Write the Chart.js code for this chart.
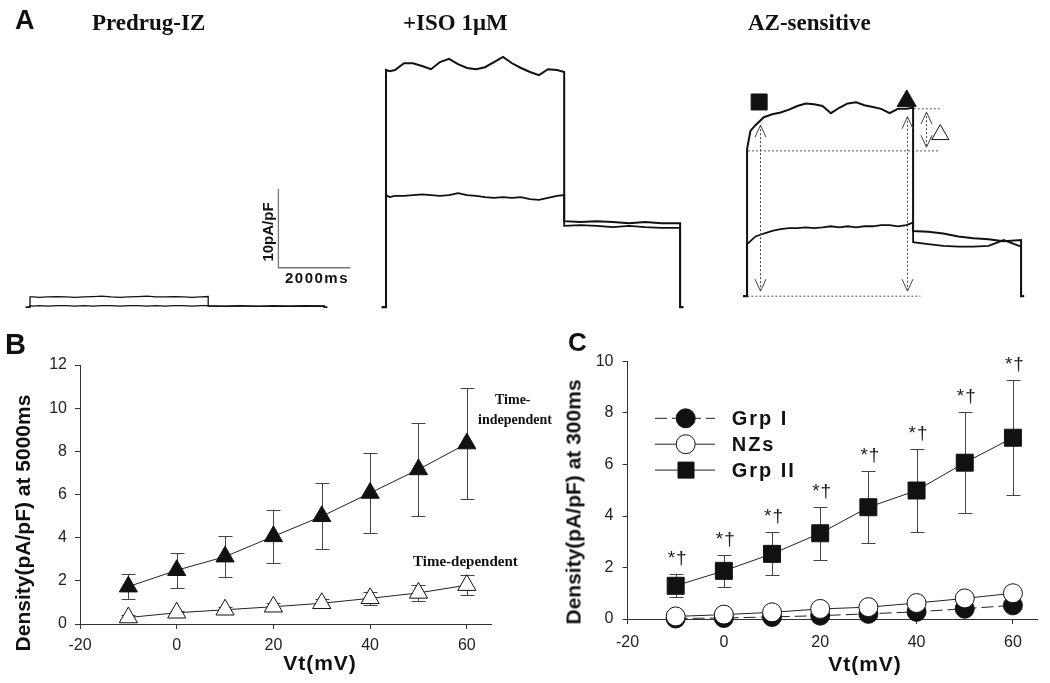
<!DOCTYPE html>
<html>
<head>
<meta charset="utf-8">
<script src="https://cdn.jsdelivr.net/npm/chart.js@4.4.1/dist/chart.umd.min.js"></script>
<style>
html, body { margin: 0; padding: 0; background: #fff; }
#page { position: relative; width: 1050px; height: 683px; overflow: hidden; }
#page canvas { position: absolute; }
.t { position: absolute; white-space: nowrap; line-height: 1; color: #111; }
.sans { font-family: "Liberation Sans", Arial, sans-serif; font-weight: bold; }
.serif { font-family: "Liberation Serif", "Times New Roman", serif; font-weight: bold; }
</style>
</head>
<body>
<div id="page">
  <canvas id="preChart" width="360" height="300" style="left:12px;top:23px"></canvas>
  <canvas id="isoChart" width="360" height="300" style="left:368px;top:23px"></canvas>
  <canvas id="azChart" width="360" height="300" style="left:718px;top:23px"></canvas>
  <canvas id="chartB" width="530" height="353" style="left:0px;top:330px"></canvas>
  <canvas id="chartC" width="520" height="353" style="left:530px;top:330px"></canvas>
</div>
<script>
// ---- panel A: current traces (time in ms, current in pA/pF) ----
var stepT = [0, 100, 250, 500, 750, 1000, 1250, 1500, 1750, 2000, 2250, 2500, 2750, 3000, 3250, 3500, 3750, 4000, 4250, 4500, 4750, 4950];
var tailT = [4950, 5400, 5850, 6300, 6750, 7200, 7650, 8170];

var preStepHi = [1.3, 1.3, 1.25, 1.3, 1.35, 1.3, 1.25, 1.3, 1.35, 1.4, 1.3, 1.25, 1.3, 1.35, 1.4, 1.3, 1.3, 1.35, 1.3, 1.25, 1.3, 1.35];
var preStepLo = [0.2, 0.15, 0.2, 0.15, 0.2, 0.2, 0.15, 0.2, 0.15, 0.2, 0.2, 0.15, 0.2, 0.2, 0.15, 0.2, 0.15, 0.2, 0.2, 0.15, 0.2, 0.2];
var preTailHi = [0.2, 0.15, 0.2, 0.1, 0.2, 0.15, 0.2, 0.15];
var preTailLo = [0.15, 0.1, 0.15, 0.15, 0.1, 0.15, 0.1, 0.15];

var isoStepHi = [30.05, 29.9, 30.05, 30.9, 30.9, 30.55, 30.15, 31.05, 31.45, 30.8, 30.3, 30.15, 30.4, 31.05, 31.7, 30.9, 30.3, 29.8, 29.4, 30.15, 30.05, 29.8];
var isoStepLo = [14.2, 13.95, 14.1, 14.1, 14.2, 14.3, 14.2, 14.1, 14.2, 14.45, 14.2, 14.1, 13.95, 13.85, 13.95, 13.85, 13.95, 13.7, 13.6, 13.85, 14.1, 14.2];
var isoTailHi = [10.9, 10.8, 10.9, 10.8, 10.65, 10.8, 10.65, 10.65];
var isoTailLo = [10.3, 10.4, 10.3, 10.15, 10.3, 10.15, 10.05, 10.05];

var azStepHi = [20.3, 22.8, 23.6, 24.7, 25.1, 25.35, 25.75, 26.25, 26.6, 26.5, 26.25, 25.25, 26.0, 26.6, 26.75, 26.35, 26.1, 25.85, 25.25, 25.85, 25.85, 26.0];
var azStepLo = [7.2, 7.6, 8.25, 8.65, 9.0, 9.25, 9.4, 9.4, 9.5, 9.4, 9.5, 9.65, 9.5, 9.65, 9.5, 9.65, 9.65, 9.8, 9.8, 9.65, 9.8, 10.15];
var azTailHi = [9.0, 8.9, 8.65, 8.25, 8.0, 7.85, 7.6, 7.75];
var azTailLo = [7.45, 7.2, 6.95, 6.85, 6.85, 6.95, 7.75, 6.85];

// scale bar: 10 pA/pF by 2000 ms
var scaleBarT = [6900, 6900, 8900];
var scaleBarV = [15, 5, 5];

// AZ-sensitive measurement guides, arrows and symbols
var guideT = [[-110, 5170], [30, 5750], [4970, 5750]];
var guideV = [[0, 0], [20.05, 20.05], [25.86, 25.86]];
var arrowT = [400, 4780, 5340];
var arrowLo = [0.7, 0.7, 20.55];
var arrowHi = [23.6, 24.76, 25.4];
var markT = [360, 4760, 5760];
var markV = [26.8, 26.95, 22.3];

var traceMinT = -500, traceMaxT = 9500;
var traceMinV = -2, traceMaxV = 36;

// ---- panels B and C ----
var vt = [-10, 0, 10, 20, 30, 40, 50, 60];
var xTicks = [-20, 0, 20, 40, 60];

var indepMean = [1.73, 2.49, 3.12, 4.06, 4.99, 6.07, 7.16, 8.36];
var indepErr = [0.57, 0.82, 0.95, 1.24, 1.52, 1.87, 2.16, 2.56];
var depMean = [0.3, 0.52, 0.66, 0.8, 0.96, 1.19, 1.44, 1.8];
var depErr = [0.1, 0.1, 0.12, 0.15, 0.22, 0.29, 0.39, 0.45];
var yTicksB = [0, 2, 4, 6, 8, 10, 12];

var grp1Mean = [0.02, 0.04, 0.08, 0.13, 0.2, 0.28, 0.4, 0.53];
var nzMean = [0.1, 0.17, 0.26, 0.39, 0.46, 0.62, 0.8, 1.0];
var grp2Mean = [1.29, 1.87, 2.53, 3.33, 4.34, 4.99, 6.07, 7.04];
var grp2Err = [0.45, 0.61, 0.83, 1.03, 1.4, 1.62, 1.97, 2.23];
var yTicksC = [0, 2, 4, 6, 8, 10];
var legendLabels = ['Grp I', 'NZs', 'Grp II'];

Chart.defaults.font.family = '"Liberation Sans", Arial, sans-serif';

var page = document.getElementById('page');

function addText(txt, cls, size, x, base, opt) {
    opt = opt || {};
    var d = document.createElement('div');
    d.className = 't ' + cls;
    d.textContent = txt;
    d.style.fontSize = size + 'px';
    var r = (cls === 'serif') ? 0.8375 : 0.8465;
    d.style.left = x + 'px';
    d.style.top = (base - r * size) + 'px';
    if (opt.spacing) d.style.letterSpacing = opt.spacing + 'px';
    if (opt.center) d.style.transform = 'translateX(-50%)';
    page.appendChild(d);
}

function addVText(txt, cls, size, cx, cy, spacing) {
    var d = document.createElement('div');
    d.className = 't ' + cls;
    d.textContent = txt;
    d.style.fontSize = size + 'px';
    d.style.left = cx + 'px';
    d.style.top = cy + 'px';
    if (spacing) d.style.letterSpacing = spacing + 'px';
    d.style.transform = 'translate(-50%,-50%) rotate(-90deg)';
    page.appendChild(d);
}

function pairs(xs, ys) {
    return xs.map(function (x, i) { return {x: x, y: ys[i]}; });
}

function sweep(stepV, tailV) {
    var pts = [{x: -120, y: 0}, {x: 0, y: 0}];
    pts = pts.concat(pairs(stepT, stepV), pairs(tailT, tailV));
    var end = tailT[tailT.length - 1];
    pts.push({x: end, y: 0}, {x: end + 90, y: 0});
    return pts;
}

function traceSet(points, width) {
    return {
        data: points,
        borderColor: '#111',
        borderWidth: width || 1.3,
        pointRadius: 0,
        tension: 0,
        clip: false
    };
}

function dottedSet(points) {
    return {
        data: points,
        borderColor: '#555',
        borderWidth: 1,
        borderDash: [2, 2],
        pointRadius: 0,
        clip: false
    };
}

var arrowPlugin = {
    id: 'arrows',
    afterDatasetsDraw: function (chart) {
        var ctx = chart.ctx, xs = chart.scales.x, ys = chart.scales.y;
        ctx.save();
        ctx.strokeStyle = '#444';
        ctx.lineWidth = 1;
        arrowT.forEach(function (t, i) {
            var x = Math.round(xs.getPixelForValue(t)) + 0.5;
            var yLo = ys.getPixelForValue(arrowLo[i]);
            var yHi = ys.getPixelForValue(arrowHi[i]);
            ctx.setLineDash([2, 2]);
            ctx.beginPath();
            ctx.moveTo(x, yHi);
            ctx.lineTo(x, yLo);
            ctx.stroke();
            ctx.setLineDash([]);
            ctx.beginPath();
            ctx.moveTo(x - 5.5, yHi + 12); ctx.lineTo(x, yHi); ctx.lineTo(x + 5.5, yHi + 12);
            ctx.moveTo(x - 5.5, yLo - 12); ctx.lineTo(x, yLo); ctx.lineTo(x + 5.5, yLo - 12);
            ctx.stroke();
        });
        ctx.restore();
    }
};

function traceChart(id, datasets, plugins) {
    return new Chart(document.getElementById(id), {
        type: 'line',
        data: {datasets: datasets},
        options: {
            responsive: false,
            animation: false,
            events: [],
            layout: {padding: 0},
            scales: {
                x: {type: 'linear', display: false, min: traceMinT, max: traceMaxT},
                y: {display: false, min: traceMinV, max: traceMaxV}
            },
            plugins: {legend: {display: false}, tooltip: {enabled: false}}
        },
        plugins: plugins || []
    });
}

traceChart('preChart', [
    traceSet(sweep(preStepHi, preTailHi), 1.3),
    traceSet(sweep(preStepLo, preTailLo), 1.3),
    {data: pairs(scaleBarT, scaleBarV), borderColor: '#777', borderWidth: 1.3, pointRadius: 0, clip: false}
]);

traceChart('isoChart', [
    traceSet(sweep(isoStepHi, isoTailHi), 2),
    traceSet(sweep(isoStepLo, isoTailLo), 1.8)
]);

var azSets = [
    traceSet(sweep(azStepHi, azTailHi), 2),
    traceSet(sweep(azStepLo, azTailLo), 1.8)
];
guideT.forEach(function (g, i) {
    azSets.push(dottedSet(pairs(g, guideV[i])));
});
azSets.push({
    data: pairs(markT, markV),
    showLine: false,
    pointStyle: ['rect', 'triangle', 'triangle'],
    pointRadius: [11.3, 11, 10],
    pointBackgroundColor: ['#111', '#111', '#fff'],
    pointBorderColor: '#111',
    pointBorderWidth: 1,
    clip: false
});
traceChart('azChart', azSets, [arrowPlugin]);

// ---- I-V plots ----
var errorBarPlugin = {
    id: 'errorBars',
    beforeDatasetsDraw: function (chart) {
        var ctx = chart.ctx, ys = chart.scales.y;
        chart.data.datasets.forEach(function (ds, i) {
            if (!ds.errorBars) return;
            var meta = chart.getDatasetMeta(i);
            ctx.save();
            ctx.strokeStyle = '#444';
            ctx.lineWidth = 1;
            meta.data.forEach(function (pt, j) {
                var v = ds.data[j].y, e = ds.errorBars[j];
                var top = Math.round(ys.getPixelForValue(v + e)) + 0.5;
                var bot = Math.round(ys.getPixelForValue(v - e)) + 0.5;
                var x = Math.round(pt.x) + 0.5;
                ctx.beginPath();
                ctx.moveTo(x, top); ctx.lineTo(x, bot);
                ctx.moveTo(x - 7, top); ctx.lineTo(x + 7, top);
                ctx.moveTo(x - 7, bot); ctx.lineTo(x + 7, bot);
                ctx.stroke();
            });
            ctx.restore();
        });
    }
};

var starPlugin = {
    id: 'stars',
    afterDatasetsDraw: function (chart) {
        var ctx = chart.ctx, ys = chart.scales.y;
        chart.data.datasets.forEach(function (ds, i) {
            if (!ds.stars) return;
            var meta = chart.getDatasetMeta(i);
            ctx.save();
            ctx.fillStyle = '#222';
            ctx.font = '19px "Liberation Sans", Arial, sans-serif';
            ctx.textAlign = 'center';
            ctx.textBaseline = 'alphabetic';
            ctx.letterSpacing = '1px';
            meta.data.forEach(function (pt, j) {
                var top = ys.getPixelForValue(ds.data[j].y + ds.errorBars[j]);
                ctx.fillText('*\u2020', pt.x + 2, top - 10);
            });
            ctx.restore();
        });
    }
};

var legendPlugin = {
    id: 'lineLegend',
    afterDatasetsDraw: function (chart) {
        var ctx = chart.ctx;
        ctx.save();
        legendLabels.forEach(function (label, row) {
            var ds = chart.data.datasets.find(function (d) { return d.label === label; });
            var y = 88.3 + row * 25.9;
            ctx.strokeStyle = '#222';
            ctx.lineWidth = 1;
            ctx.setLineDash(ds.borderDash || []);
            ctx.beginPath();
            ctx.moveTo(125, y);
            ctx.lineTo(185, y);
            ctx.stroke();
            ctx.setLineDash([]);
            ctx.fillStyle = ds.pointBackgroundColor;
            ctx.strokeStyle = '#111';
            ctx.beginPath();
            if (ds.pointStyle === 'rect') {
                ctx.rect(148, y - 8, 16, 16);
            } else {
                ctx.arc(155.7, y, 9.5, 0, Math.PI * 2);
            }
            ctx.fill();
            ctx.stroke();
            ctx.fillStyle = '#111';
            ctx.font = 'bold 20px "Liberation Sans", Arial, sans-serif';
            ctx.letterSpacing = '2px';
            ctx.textAlign = 'left';
            ctx.textBaseline = 'alphabetic';
            ctx.fillText(label, 201.7, y + 7);
            ctx.letterSpacing = '0px';
        });
        ctx.restore();
    }
};

function ivSet(label, means, style, radius, fill, extra) {
    var ds = {
        label: label,
        data: pairs(vt, means),
        borderColor: '#222',
        borderWidth: 1,
        pointStyle: style,
        pointRadius: radius,
        pointBackgroundColor: fill,
        pointBorderColor: '#111',
        pointBorderWidth: 1,
        tension: 0,
        clip: false
    };
    return Object.assign(ds, extra || {});
}

function ivChart(id, datasets, yMax, yTicks, box, plugins) {
    return new Chart(document.getElementById(id), {
        type: 'line',
        data: {datasets: datasets},
        options: {
            responsive: false,
            animation: false,
            events: [],
            layout: {padding: {left: 0, top: box.top, right: box.right, bottom: 0}},
            scales: {
                x: {
                    type: 'linear',
                    min: -20,
                    max: 65,
                    afterBuildTicks: function (s) { s.ticks = xTicks.map(function (v) { return {value: v}; }); },
                    afterFit: function (s) { s.height = box.xHeight; },
                    grid: {display: true, drawOnChartArea: false, drawTicks: true, tickLength: 5, color: '#333'},
                    border: {display: true, color: '#333', width: 1},
                    ticks: {color: '#222', font: {size: 16}, padding: box.xPad, maxRotation: 0}
                },
                y: {
                    type: 'linear',
                    min: 0,
                    max: yMax,
                    afterBuildTicks: function (s) { s.ticks = yTicks.map(function (v) { return {value: v}; }); },
                    afterFit: function (s) { s.width = box.yWidth; },
                    grid: {display: true, drawOnChartArea: false, drawTicks: true, tickLength: 5, color: '#333'},
                    border: {display: true, color: '#333', width: 1},
                    ticks: {color: '#222', font: {size: 16}, padding: box.yPad}
                }
            },
            plugins: {legend: {display: false}, tooltip: {enabled: false}}
        },
        plugins: plugins
    });
}

ivChart('chartB', [
    ivSet('Time-independent', indepMean, 'triangle', 10.5, '#111', {errorBars: indepErr}),
    ivSet('Time-dependent', depMean, 'triangle', 10.5, '#fff', {errorBars: depErr})
], 12, yTicksB, {top: 35, right: 39, xHeight: 59, yWidth: 80, xPad: 7, yPad: 8}, [errorBarPlugin]);

ivChart('chartC', [
    ivSet('NZs', nzMean, 'circle', 9.5, '#fff', {order: 0}),
    ivSet('Grp I', grp1Mean, 'circle', 9.5, '#111', {order: 1, borderDash: [12, 5]}),
    ivSet('Grp II', grp2Mean, 'rect', 12, '#111', {order: 2, errorBars: grp2Err, stars: true})
], 10, yTicksC, {top: 31.5, right: 11, xHeight: 64, yWidth: 97.5, xPad: 9, yPad: 9}, [errorBarPlugin, starPlugin, legendPlugin]);

// ---- labels ----
addText('A', 'sans', 27, 15, 30);
addText('Predrug-IZ', 'serif', 23, 92, 30);
addText('+ISO 1\u03bcM', 'serif', 23, 403, 30);
addText('AZ-sensitive', 'serif', 23, 748, 30);
addVText('10pA/pF', 'sans', 15, 267, 232);
addText('2000ms', 'sans', 15, 285, 283, {spacing: 1.5});

addText('B', 'sans', 29, 5, 355);
addVText('Density(pA/pF) at 5000ms', 'sans', 21, 22, 523);
addText('Vt(mV)', 'sans', 21, 320, 670, {center: true, spacing: 1});
addText('Time-', 'serif', 14, 495, 405);
addText('independent', 'serif', 14, 478, 425);
addText('Time-dependent', 'serif', 15, 413, 567);

addText('C', 'sans', 26, 568, 351);
addVText('Density(pA/pF) at 300ms', 'sans', 21, 573, 502);
addText('Vt(mV)', 'sans', 21, 865, 671, {center: true, spacing: 1});
</script>
</body>
</html>
